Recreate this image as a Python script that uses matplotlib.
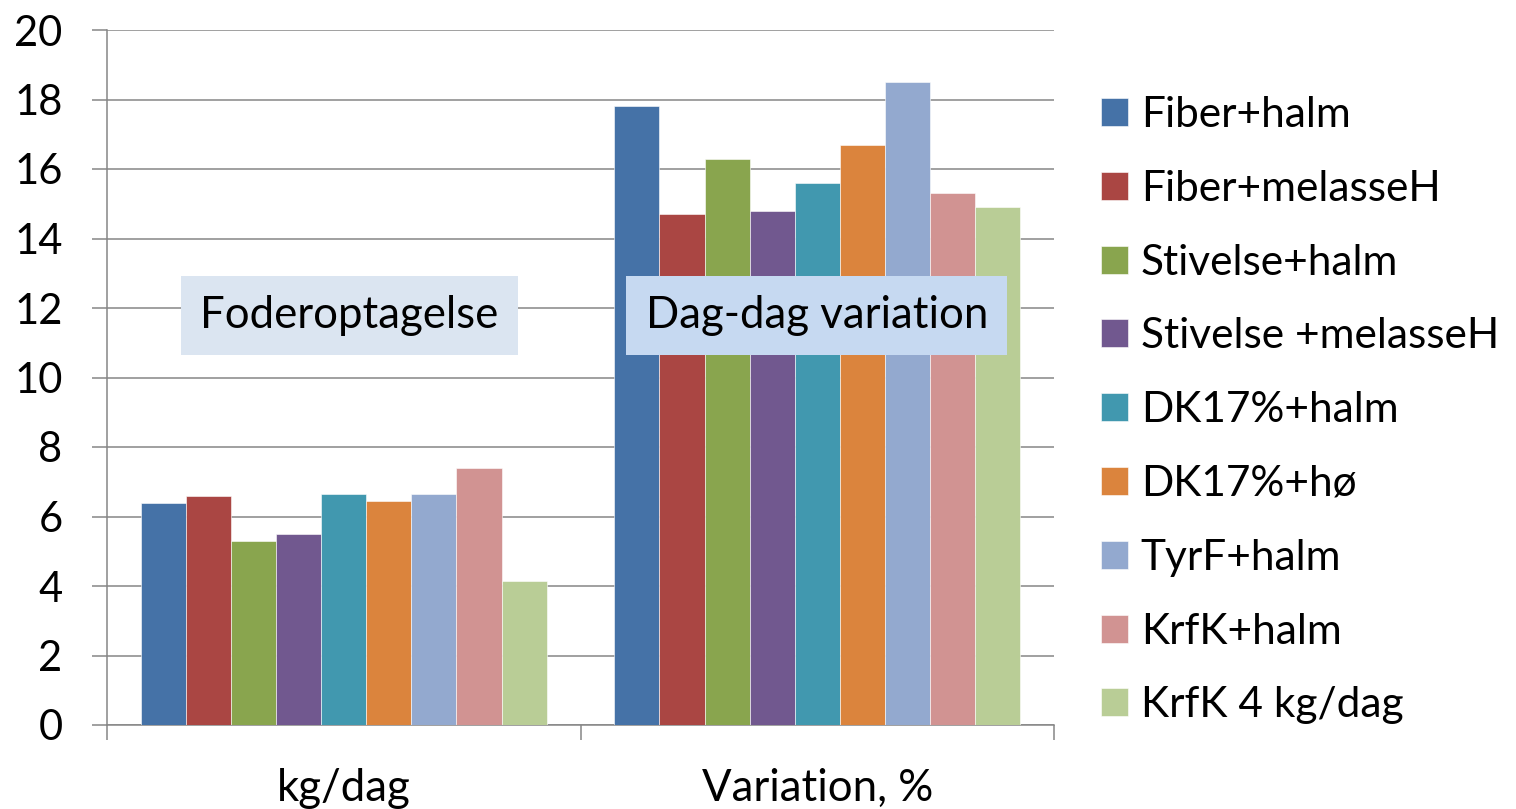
import matplotlib
matplotlib.use("Agg")
import matplotlib.pyplot as plt
import numpy as np

plt.rcParams['font.family'] = ['Lato', 'DejaVu Sans']

categories = ["kg/dag", "Variation, %"]
series_names = ["Fiber+halm", "Fiber+melasseH", "Stivelse+halm", "Stivelse +melasseH",
                "DK17%+halm", "DK17%+hø", "TyrF+halm", "KrfK+halm", "KrfK 4 kg/dag"]
kg_dag = [6.4, 6.6, 5.3, 5.5, 6.65, 6.45, 6.65, 7.4, 4.15]
variation = [17.8, 14.7, 16.3, 14.8, 15.6, 16.7, 18.5, 15.3, 14.9]
colors = ["#4572a7", "#aa4643", "#89a54e", "#71588f", "#4198af",
          "#db843d", "#93a9cf", "#d19392", "#b9cd96"]
yticks = [0, 2, 4, 6, 8, 10, 12, 14, 16, 18, 20]

W, H = 1516, 809
fig = plt.figure(figsize=(W / 100, H / 100), dpi=100)
ax = fig.add_axes([107 / W, (H - 725) / H, (1054 - 107) / W, (725 - 30) / H])

n = len(series_names)
bw = 1 / (n + 1.5)
x = np.arange(len(categories))
grey = "#868686"
handles = []
for i, name in enumerate(series_names):
    vals = [kg_dag[i], variation[i]]
    b = ax.bar(x - 0.5 + 0.75 * bw + (i + 0.5) * bw, vals, width=bw, color=colors[i],
               edgecolor="white", linewidth=0.4, label=name, zorder=3)
    handles.append(b)

ax.set_xlim(-0.5, 1.5)
ax.set_ylim(0, 20)
ax.set_yticks(yticks)
ax.set_yticklabels([str(v) for v in yticks])
ax.yaxis.grid(True, color=grey, linewidth=1.1, zorder=0)
ax.set_axisbelow(True)
ax.tick_params(axis='y', length=11, width=1.1, color=grey, pad=21, labelsize=30)
ax.set_xticks(x)
ax.set_xticklabels(categories)
ax.set_xticks([-0.5, 0.5, 1.5], minor=True)
ax.tick_params(axis='x', which='major', length=0, pad=31, labelsize=31.5)
ax.tick_params(axis='x', which='minor', length=11, width=1.1, color=grey)
for s in ['top', 'right']:
    ax.spines[s].set_visible(False)
for s in ['left', 'bottom']:
    ax.spines[s].set_color(grey)
    ax.spines[s].set_linewidth(1.1)

ax.text(0.012, 11.79, "Foderoptagelse", ha='center', va='center', fontsize=31.5, zorder=5,
        bbox=dict(boxstyle='square,pad=0.44', facecolor='#dbe5f1', edgecolor='none'))
ax.text(0.999, 11.79, "Dag-dag variation", ha='center', va='center', fontsize=31.5, zorder=5,
        bbox=dict(boxstyle='square,pad=0.44', facecolor='#c6d9f1', edgecolor='none'))

fig.legend(handles=handles, loc='upper left', bbox_to_anchor=(1101 / W, 1 - 96 / H),
           frameon=False, fontsize=30.5, handlelength=0.64, handleheight=0.64,
           handletextpad=0.3, labelspacing=0.845, borderpad=0, borderaxespad=0)

fig.savefig("out.png", dpi=100)
